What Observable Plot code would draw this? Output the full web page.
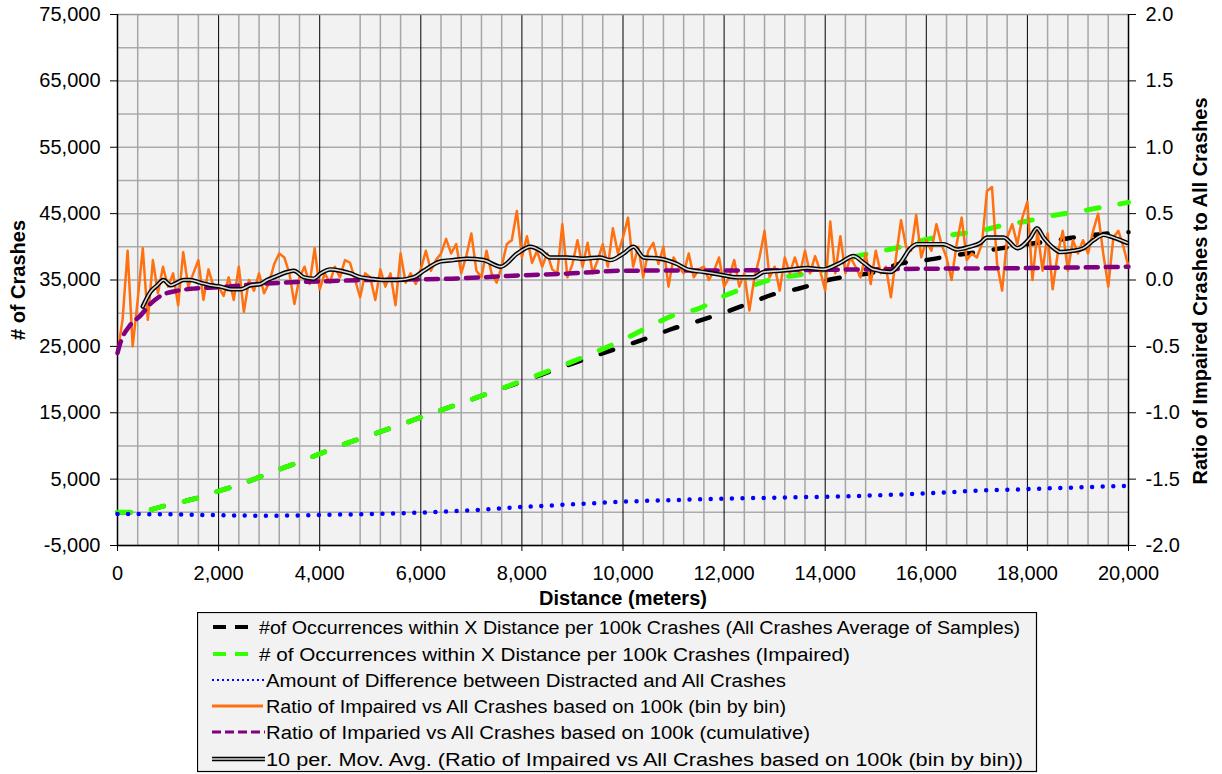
<!DOCTYPE html>
<html><head><meta charset="utf-8">
<script src="https://cdn.jsdelivr.net/npm/d3@7"></script>
<script src="https://cdn.jsdelivr.net/npm/@observablehq/plot@0.6"></script>
<style>
body{margin:0;background:#fff;}
#wrap{position:relative;width:1222px;height:774px;overflow:hidden;}
#legend{position:absolute;left:197px;top:612px;}
</style></head><body><div id="wrap"></div>
<script>
// ---- tick labels / grid ----
const xTicks = [0,2000,4000,6000,8000,10000,12000,14000,16000,18000,20000];
const xMinorGrid = [400,1200,1600,2400,2800,3200,3600,4800,5200,5600,6400,6800,7200,7600,8400,8800,9200,9600,10400,10800,11200,11600,12400,12800,13200,13600,14400,14800,15600,16400,16800,17200,17600,18400,18800,19200,19600];
const leftTicks = [-5000,5000,15000,25000,35000,45000,55000,65000,75000];
const hGrid = [0,10000,20000,30000,40000,50000,60000,70000,-5000,5000,15000,25000,35000,45000,55000,65000];

// ---- series: # of occurrences, all crashes (left axis) ----
const allDist = [0,400,600,1000,1500,2000,2500,3000,3500,4000,4500,5000,6000,7000,8000,9000,10000,10500,11000,11500,12000,12500,13000,13500,14000,14500,15000,15500,16000,16500,17000,17500,18000,18500,19000,19500,20000];
const allVal  = [0,0,300,1100,2000,3200,4400,5900,7300,8800,10300,11600,14300,17000,19700,22400,25000,26300,27700,28850,30100,31500,32900,33750,34900,35600,36200,37500,38000,38650,39200,39800,40400,40900,41500,41950,42200];

// ---- series: # of occurrences, impaired (left axis) ----
const impDist = [0,400,600,1000,1500,2000,2500,3000,3500,4000,4500,5000,6000,7000,8000,9000,10000,10500,11000,11500,12000,12500,13000,13500,14000,14500,15000,15500,16000,16500,17000,17500,18000,18500,19000,19500,20000];
const impVal  = [0,0,300,1100,2000,3200,4400,5900,7300,8800,10300,11600,14300,17000,19800,22700,26000,27900,29700,30700,32600,34000,35200,35800,36600,38300,39200,40000,41100,41800,42300,43200,43900,44700,45300,46000,46700];

// ---- series: amount of difference (left axis) ----
const diffDist = [0,1000,2000,3000,4000,5000,6000,7000,8000,9000,10000,11000,12000,13000,14000,15000,16000,17000,18000,19000,20000];
const diffVal  = [-250,-300,-430,-520,-400,-250,-50,300,800,1200,1600,1850,2050,2200,2350,2550,2850,3250,3500,3750,4000];

// ---- series: ratio bin by bin (right axis), every 100 m from 0 to 20,000 ----
const ratioBin = [
-0.55,-0.3,0.22,-0.5,-0.15,0.24,-0.3,0.15,-0.1,0.1,
-0.05,0.05,-0.19,0.21,-0.05,0.05,0.15,-0.15,0.08,-0.05,
-0.05,-0.12,0.02,-0.15,0.1,-0.24,0.0,-0.08,0.05,-0.1,
-0.02,0.12,0.2,0.17,0.05,-0.18,0.02,0.1,-0.03,0.24,
-0.07,0.05,-0.02,0.1,0.02,0.15,0.13,0.0,-0.13,0.05,
0.02,-0.15,0.08,-0.05,0.05,-0.19,0.2,-0.02,0.05,-0.03,
0.08,0.22,0.07,0.15,0.2,0.31,0.2,0.27,0.05,0.18,
0.35,0.07,0.02,0.22,0.05,-0.02,0.1,0.27,0.3,0.52,
0.17,0.33,0.13,0.22,0.1,0.2,0.08,0.05,0.42,0.02,
0.12,0.3,0.1,0.28,0.05,0.15,0.27,0.1,0.39,0.2,
0.32,0.47,0.1,0.25,0.02,0.22,0.28,0.12,0.25,-0.05,
0.17,0.1,0.05,0.2,0.02,0.08,0.1,0.0,0.07,0.17,
-0.05,0.02,0.15,-0.05,0.05,-0.23,0.02,0.17,0.37,0.02,
0.1,-0.08,0.17,0.05,0.17,0.05,0.22,0.05,0.18,0.07,
-0.08,0.44,0.05,0.33,0.05,0.17,0.1,0.02,0.2,-0.03,
0.22,0.05,0.1,-0.13,0.17,0.45,0.25,0.22,0.49,0.17,
0.3,0.22,0.42,0.27,0.17,0.0,0.27,0.47,0.15,0.2,
0.17,0.27,0.67,0.7,0.12,-0.08,0.32,0.42,0.27,0.47,
0.59,0.0,0.37,0.07,0.35,-0.07,0.2,0.37,0.07,0.3,
0.2,0.3,0.2,0.37,0.5,0.2,-0.05,0.32,0.37,0.25,
0.1];
const binStep = 100;

// ---- series: ratio cumulative (right axis) ----
const cumDist = [0,60,250,450,650,850,1200,1500,2000,2800,3300,4000,5000,6600,8000,9000,10000,12000,14000,16000,18000,20000];
const cumVal  = [-0.55,-0.47,-0.34,-0.27,-0.18,-0.12,-0.08,-0.065,-0.054,-0.03,-0.02,-0.01,0.0,0.01,0.035,0.05,0.07,0.072,0.077,0.085,0.09,0.1];

// ---- series: 10 per. moving average (right axis) ----
const maDist = [500,650,785,910,1050,1180,1310,1440,1640,1840,2040,2240,2430,2630,2830,2960,3090,3360,3490,3690,3880,4020,4210,4410,4610,4810,5000,5270,5530,5860,6060,6390,6650,6920,7240,7580,7910,8170,8370,8560,8890,9200,9540,9750,10010,10210,10410,10740,11070,11270,11600,11930,12260,12580,12780,13110,13370,13640,13970,14300,14560,14760,14950,15290,15490,15690,15820,16080,16340,16610,16850,17070,17200,17530,17800,18060,18190,18320,18520,18650,18900,19110,19310,19510,19700,19970];
const maVal  = [-0.2,-0.09,-0.04,0.0,-0.04,-0.02,0.0,0.0,-0.02,-0.04,-0.05,-0.07,-0.07,-0.04,-0.03,0.0,0.02,0.06,0.07,0.02,0.01,0.05,0.08,0.07,0.05,0.02,0.01,0.0,0.0,0.02,0.07,0.14,0.15,0.16,0.15,0.1,0.2,0.25,0.22,0.17,0.17,0.16,0.17,0.15,0.2,0.25,0.17,0.16,0.12,0.08,0.06,0.04,0.02,0.02,0.06,0.07,0.08,0.09,0.08,0.13,0.18,0.13,0.08,0.06,0.13,0.24,0.27,0.27,0.27,0.23,0.25,0.28,0.32,0.32,0.24,0.32,0.39,0.32,0.24,0.21,0.22,0.24,0.3,0.34,0.32,0.28];

const legendLabels = [
 "#of Occurrences within X Distance per 100k Crashes (All Crashes Average of Samples)",
 "# of Occurrences within X Distance per 100k Crashes (Impaired)",
 "Amount of Difference between Distracted and All Crashes",
 "Ratio of Impaired vs All Crashes based on 100k (bin by bin)",
 "Ratio of Imparied vs All Crashes based on 100k (cumulative)",
 "10 per. Mov. Avg. (Ratio of Impaired vs All Crashes based on 100k (bin by bin))"
];

// ---- build tables ----
const zip = (xs, ys) => xs.map((x, i) => ({x, y: ys[i]}));
const toLeft = r => 35000 + r * 20000;   // right axis (-2..2) onto left axis (-5000..75000)
const allData = zip(allDist, allVal);
const impData = zip(impDist, impVal);
const diffData = zip(diffDist, diffVal);
const binData = ratioBin.map((r, i) => ({x: i * binStep, y: toLeft(r)}));
const cumData = cumDist.map((x, i) => ({x, y: toLeft(cumVal[i])}));
const maData = maDist.map((x, i) => ({x, y: toLeft(maVal[i])}));

const FONT = "'Liberation Sans', Arial, Helvetica, sans-serif";
const chart = Plot.plot({
  width: 1222, height: 612,
  marginLeft: 117, marginRight: 94, marginTop: 14, marginBottom: 67,
  x: {domain: [0, 20000]},
  y: {domain: [-5000, 75000]},
  style: {fontFamily: FONT, fontSize: "20px", color: "#000", background: "transparent", overflow: "visible"},
  marks: [
    Plot.frame({fill: "#f2f2f2", stroke: null}),
    Plot.ruleY(hGrid, {stroke: "#ababab", strokeWidth: 1.5}),
    Plot.ruleX(xMinorGrid, {stroke: "#a6a6a6", strokeWidth: 1.5}),
    Plot.ruleX(xTicks, {stroke: "#000", strokeWidth: 1}),
    Plot.ruleY([75000], {stroke: "#999", strokeWidth: 1.5}),
    Plot.ruleY([-5000], {stroke: "#000", strokeWidth: 1.5}),
    Plot.ruleX([0, 20000], {stroke: "#000", strokeWidth: 1.5}),

    Plot.line(allData, {x: "x", y: "y", stroke: "#000", strokeWidth: 4.5, strokeDasharray: "13,21", strokeLinecap: "round", curve: "monotone-x"}),
    Plot.line(impData, {x: "x", y: "y", stroke: "#33ff00", strokeWidth: 5, strokeDasharray: "13,21", strokeLinecap: "round", curve: "monotone-x"}),
    Plot.line(diffData, {x: "x", y: "y", stroke: "#0000ff", strokeWidth: 4.5, strokeDasharray: "0,10.6", strokeLinecap: "round", curve: "monotone-x"}),
    Plot.line(binData, {x: "x", y: "y", stroke: "#ff7010", strokeWidth: 2.5}),
    Plot.line(cumData, {x: "x", y: "y", stroke: "#800080", strokeWidth: 4.5, strokeDasharray: "12,8", curve: "monotone-x"}),
    Plot.line(maData, {x: "x", y: "y", stroke: "#000", strokeWidth: 4.5, curve: "monotone-x"}),
    Plot.line(maData, {x: "x", y: "y", stroke: "#d8d8d8", strokeWidth: 1.6, curve: "monotone-x"}),

    Plot.axisY(leftTicks, {anchor: "left", tickSize: 7, tickPadding: 10, tickFormat: d => d.toLocaleString("en-US"), label: null}),
    Plot.axisY(leftTicks, {anchor: "right", tickSize: 7, tickPadding: 10, tickFormat: d => ((d - 35000) / 20000).toFixed(1), label: null}),
    Plot.axisX(xTicks, {anchor: "bottom", tickSize: 6, tickPadding: 14, tickFormat: d => d.toLocaleString("en-US"), label: null}),

    Plot.text(["# of Crashes"], {frameAnchor: "left", dx: -99, rotate: -90, textAnchor: "middle", lineAnchor: "middle", fontWeight: "bold", fontSize: 20}),
    Plot.text(["Ratio of Impaired Crashes to All Crashes"], {frameAnchor: "right", dx: 72, dy: 11, rotate: -90, textAnchor: "middle", lineAnchor: "middle", fontWeight: "bold", fontSize: 20}),
    Plot.text(["Distance (meters)"], {frameAnchor: "bottom", dy: 53, textAnchor: "middle", lineAnchor: "middle", fontWeight: "bold", fontSize: 20})
  ]
});
const wrap = document.getElementById("wrap");
wrap.appendChild(chart);

// ---- legend ----
const L = d3.create("svg").attr("id", "legend").attr("width", 841).attr("height", 161);
L.append("rect").attr("x", 0.5).attr("y", 0.5).attr("width", 839).attr("height", 159).attr("fill", "#f2f2f2").attr("stroke", "#000").attr("stroke-width", 1.2);
const rowY = [15, 42, 68, 94, 120, 147];
const textW = [761, 591, 520, 520, 544, 757];
const textX = [62, 62, 69, 69, 69, 69];
const styles = [
  {stroke: "#000", w: 4, dash: "13,9", cap: "butt", x1: 16, x2: 52},
  {stroke: "#33ff00", w: 4, dash: "13,9", cap: "butt", x1: 16, x2: 52},
  {stroke: "#0000ff", w: 2.2, dash: "2,3", cap: "butt", x1: 15, x2: 67},
  {stroke: "#ff7010", w: 3, dash: null, cap: "butt", x1: 15, x2: 66},
  {stroke: "#800080", w: 3, dash: "9,4", cap: "butt", x1: 15, x2: 68},
  {stroke: "#000", w: 4.5, dash: null, cap: "butt", x1: 15, x2: 68}
];
legendLabels.forEach((t, i) => {
  const s = styles[i];
  const ln = L.append("line").attr("x1", s.x1).attr("x2", s.x2).attr("y1", rowY[i]).attr("y2", rowY[i])
    .attr("stroke", s.stroke).attr("stroke-width", s.w).attr("stroke-linecap", s.cap);
  if (s.dash) ln.attr("stroke-dasharray", s.dash);
  if (i === 5) L.append("line").attr("x1", s.x1).attr("x2", s.x2).attr("y1", rowY[i]).attr("y2", rowY[i]).attr("stroke", "#d8d8d8").attr("stroke-width", 1.6);
  L.append("text").attr("x", textX[i]).attr("y", rowY[i] + 6.5).text(t)
    .attr("font-family", "'Liberation Sans Narrow', 'Liberation Sans', Arial, sans-serif")
    .attr("font-size", 18).attr("fill", "#000")
    .attr("textLength", textW[i]).attr("lengthAdjust", "spacingAndGlyphs");
});
wrap.appendChild(L.node());
</script></body></html>
